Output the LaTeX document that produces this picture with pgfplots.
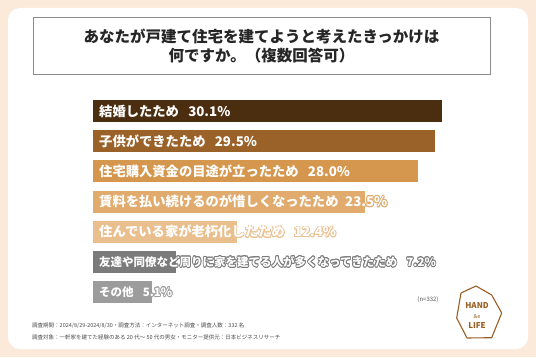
\documentclass[border=0pt]{standalone}
\usepackage{pgfplots}
\pgfplotsset{compat=1.18}
\usepackage{fontspec}
\setmainfont{Noto Sans CJK JP}
\definecolor{bgpeach}{HTML}{FBEAD9}
\definecolor{cA}{HTML}{4B2D0F}
\definecolor{cB}{HTML}{9A6229}
\definecolor{cC}{HTML}{D5974D}
\definecolor{cD}{HTML}{E0AB6D}
\definecolor{cE}{HTML}{EABF8E}
\definecolor{cF}{HTML}{7B7B7B}
\definecolor{cG}{HTML}{9C9C9C}
\definecolor{logo}{HTML}{9B5E23}
\newcommand\olab[4]{%
  \foreach \a in {0,30,...,330}{%
    \node[anchor=west,inner sep=0pt,xshift=6pt,text=#2,font=\fontsize{#3}{#3}\selectfont\bfseries] at ([shift={(\a:0.8pt)}]#1) {#4};}
  \node[anchor=west,inner sep=0pt,xshift=6pt,text=white,font=\fontsize{#3}{#3}\selectfont\bfseries] at (#1) {#4};
}
\begin{document}
\begin{tikzpicture}
\fill[bgpeach] (0pt,0pt) rectangle (536pt,357pt);
\fill[white,rounded corners=12pt] (8pt,8pt) rectangle (528pt,349pt);
\draw[draw=black!45,line width=0.8pt] (33pt,283pt) rectangle (490pt,340pt);
\node[font=\fontsize{15.5}{18}\selectfont\bfseries,text=black!85] at (261.5pt,321pt) {あなたが戸建て住宅を建てようと考えたきっかけは};
\node[font=\fontsize{15.5}{18}\selectfont\bfseries,text=black!85] at (261.5pt,301pt) {何ですか。（複数回答可）};
\begin{axis}[
  at={(93pt,49.9pt)}, anchor=south west,
  scale only axis, width=463.6pt, height=211.2pt,
  xmin=0, xmax=40, ymin=-0.5, ymax=6.5, y dir=reverse,
  hide axis, xbar, bar width=22pt, bar shift=0pt,
]
\addplot[fill=cA,draw=none] coordinates {(30.1,0)};
\addplot[fill=cB,draw=none] coordinates {(29.5,1)};
\addplot[fill=cC,draw=none] coordinates {(28.0,2)};
\addplot[fill=cD,draw=none] coordinates {(23.5,3)};
\addplot[fill=cE,draw=none] coordinates {(12.4,4)};
\addplot[fill=cF,draw=none] coordinates {(7.2,5)};
\addplot[fill=cG,draw=none] coordinates {(5.1,6)};
\coordinate (b0) at (axis cs:0,0);
\coordinate (b1) at (axis cs:0,1);
\coordinate (b2) at (axis cs:0,2);
\coordinate (b3) at (axis cs:0,3);
\coordinate (b4) at (axis cs:0,4);
\coordinate (b5) at (axis cs:0,5);
\coordinate (b6) at (axis cs:0,6);
\end{axis}
\olab{b0}{cA}{13.3}{結婚したため\hspace{0.7em}30.1\%}
\olab{b1}{cB}{13.3}{子供ができたため\hspace{0.7em}29.5\%}
\olab{b2}{cC}{13.3}{住宅購入資金の目途が立ったため\hspace{0.7em}28.0\%}
\olab{b3}{cD}{13.3}{賃料を払い続けるのが惜しくなったため\hspace{0.5em}23.5\%}
\olab{b4}{cE}{13.3}{住んでいる家が老朽化したため\hspace{0.7em}12.4\%}
\olab{b5}{cF}{11.5}{友達や同僚など周りに家を建てる人が多くなってきたため\hspace{0.8em}7.2\%}
\olab{b6}{cG}{11.5}{その他\hspace{0.8em}5.1\%}
\node[font=\fontsize{6}{7}\selectfont,text=black!65] at (428pt,57pt) {(n=332)};
\node[anchor=west,inner sep=0pt,font=\fontsize{5.5}{6}\selectfont,text=black!70] at (32pt,31pt) {調査期間：2024/8/29-2024/8/30・調査方法：インターネット調査・調査人数：332 名};
\node[anchor=west,inner sep=0pt,font=\fontsize{5.5}{6}\selectfont,text=black!70] at (32pt,20pt) {調査対象：一軒家を建てた経験のある 20 代～ 50 代の男女・モニター提供元：日本ビジネスリサーチ};
\draw[logo,line width=1.1pt,line join=round] (476pt,71pt) -- (491.7pt,62pt) -- (501.7pt,44pt) -- (491.7pt,19.3pt) -- (467pt,19pt) -- (456.7pt,39pt) -- (461pt,64pt) -- cycle;
\node[logo,font=\fontsize{8}{8}\selectfont\bfseries] at (477pt,51pt) {HAND};
\node[logo,font=\fontsize{5.5}{6}\selectfont\itshape] at (477pt,40.5pt) {\&e};
\node[logo,font=\fontsize{8}{8}\selectfont\bfseries] at (477pt,31pt) {LIFE};
\end{tikzpicture}
\end{document}
